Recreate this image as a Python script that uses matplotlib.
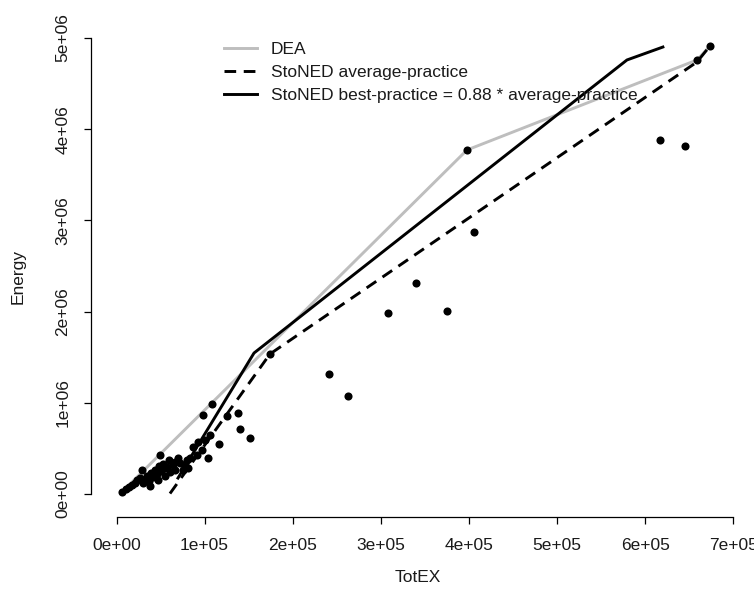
import matplotlib
matplotlib.use("Agg")
import matplotlib.pyplot as plt

plt.rcParams['font.family'] = ['Liberation Sans', 'DejaVu Sans']

# Observed firms (TotEX, Energy)
totex = [673600, 658900, 616900, 645200, 397800, 405800, 339900, 308200, 375100,
         241200, 262800, 174200, 108400, 98200, 125400, 137900, 140200, 151500,
         116300, 106100, 100400, 97000, 103900, 92500, 91400, 86800, 83400, 80000,
         77700, 75500, 72100, 69800, 66400, 64100, 60700, 59600, 57300, 55000,
         52800, 50500, 49400, 48200, 46000, 43700, 41400, 39200, 36900, 34600,
         32300, 30100, 28900, 26700, 23300, 21000, 17600, 14200, 10800, 6200,
         38000, 47100, 55000, 66400, 81200]
energy = [4912000, 4759000, 3882000, 3816000, 3772000, 2873000, 2314000, 1985000,
          2007000, 1316000, 1075000, 1535000, 987000, 866000, 855000, 888000,
          713000, 614000, 548000, 647000, 592000, 482000, 395000, 570000, 428000,
          515000, 395000, 373000, 318000, 263000, 340000, 395000, 351000, 318000,
          241000, 373000, 296000, 285000, 329000, 252000, 428000, 307000, 219000,
          263000, 186000, 230000, 143000, 197000, 164000, 121000, 263000, 175000,
          154000, 121000, 99000, 77000, 55000, 22000,
          88000, 154000, 197000, 263000, 285000]

# Frontiers
dea_x = [6200, 397800, 658900, 673600]
dea_y = [22000, 3772000, 4759000, 4912000]
avg_x = [60700, 174200, 658900, 673600]
avg_y = [5000, 1535000, 4737000, 4912000]
best_x = [69800, 156100, 579400, 620200]
best_y = [175000, 1546000, 4759000, 4901000]

xticks = [0, 100000, 200000, 300000, 400000, 500000, 600000, 700000]
xtick_labels = ["0e+00", "1e+05", "2e+05", "3e+05", "4e+05", "5e+05", "6e+05", "7e+05"]
yticks = [0, 1000000, 2000000, 3000000, 4000000, 5000000]
ytick_labels = ["0e+00", "1e+06", "2e+06", "3e+06", "4e+06", "5e+06"]

W, H = 754, 597
fig = plt.figure(figsize=(W / 100, H / 100), dpi=100)
left_px, right_px, top_px, bot_px = 91, 745, 30, 517
ax = fig.add_axes([left_px / W, 1 - bot_px / H, (right_px - left_px) / W, (bot_px - top_px) / H])

# pixel mapping: x 0 -> 116.5px, 1e5 per 88.1px ; y 0 -> 494px, 1e6 per 91.2px
ax.set_xlim((left_px - 116.5) * 1e5 / 88.1, (right_px - 116.5) * 1e5 / 88.1)
ax.set_ylim((494 - bot_px) * 1e6 / 91.2, (494 - top_px) * 1e6 / 91.2)

fs = 12.5
tc = '#1a1a1a'
ax.scatter(totex, energy, s=34, color='black', zorder=3, linewidths=0)
ax.plot(dea_x, dea_y, color='#BEBEBE', lw=2.1, label='DEA')
ax.plot(avg_x, avg_y, color='black', lw=2.1, linestyle=(0, (4, 2.6)),
        label='StoNED average-practice')
ax.plot(best_x, best_y, color='black', lw=2.1,
        label='StoNED best-practice = 0.88 * average-practice')

for s in ['top', 'right']:
    ax.spines[s].set_visible(False)
ax.spines['left'].set_bounds(0, 5000000)
ax.spines['bottom'].set_bounds(0, 700000)
ax.spines['left'].set_linewidth(0.9)
ax.spines['bottom'].set_linewidth(0.9)

ax.set_xticks(xticks)
ax.set_xticklabels(xtick_labels, fontsize=fs, color=tc)
ax.set_yticks(yticks)
ax.set_yticklabels(ytick_labels, fontsize=fs, rotation=90, va='center', color=tc)
ax.tick_params(direction='out', length=5, width=0.9, pad=10)

fig.text(418 / W, 1 - 578 / H, "TotEX", ha='center', va='center', fontsize=fs, color=tc)
fig.text(18 / W, 1 - 277 / H, "Energy", ha='center', va='center', rotation=90,
         fontsize=fs, color=tc)

leg = ax.legend(loc='upper left', bbox_to_anchor=(224 / W, 1 - 42 / H),
                bbox_transform=fig.transFigure, frameon=False, fontsize=fs,
                handlelength=1.9, handletextpad=0.8, labelspacing=0.45,
                borderaxespad=0, borderpad=0)
for t in leg.get_texts():
    t.set_color(tc)

fig.savefig("out.png", dpi=100)
